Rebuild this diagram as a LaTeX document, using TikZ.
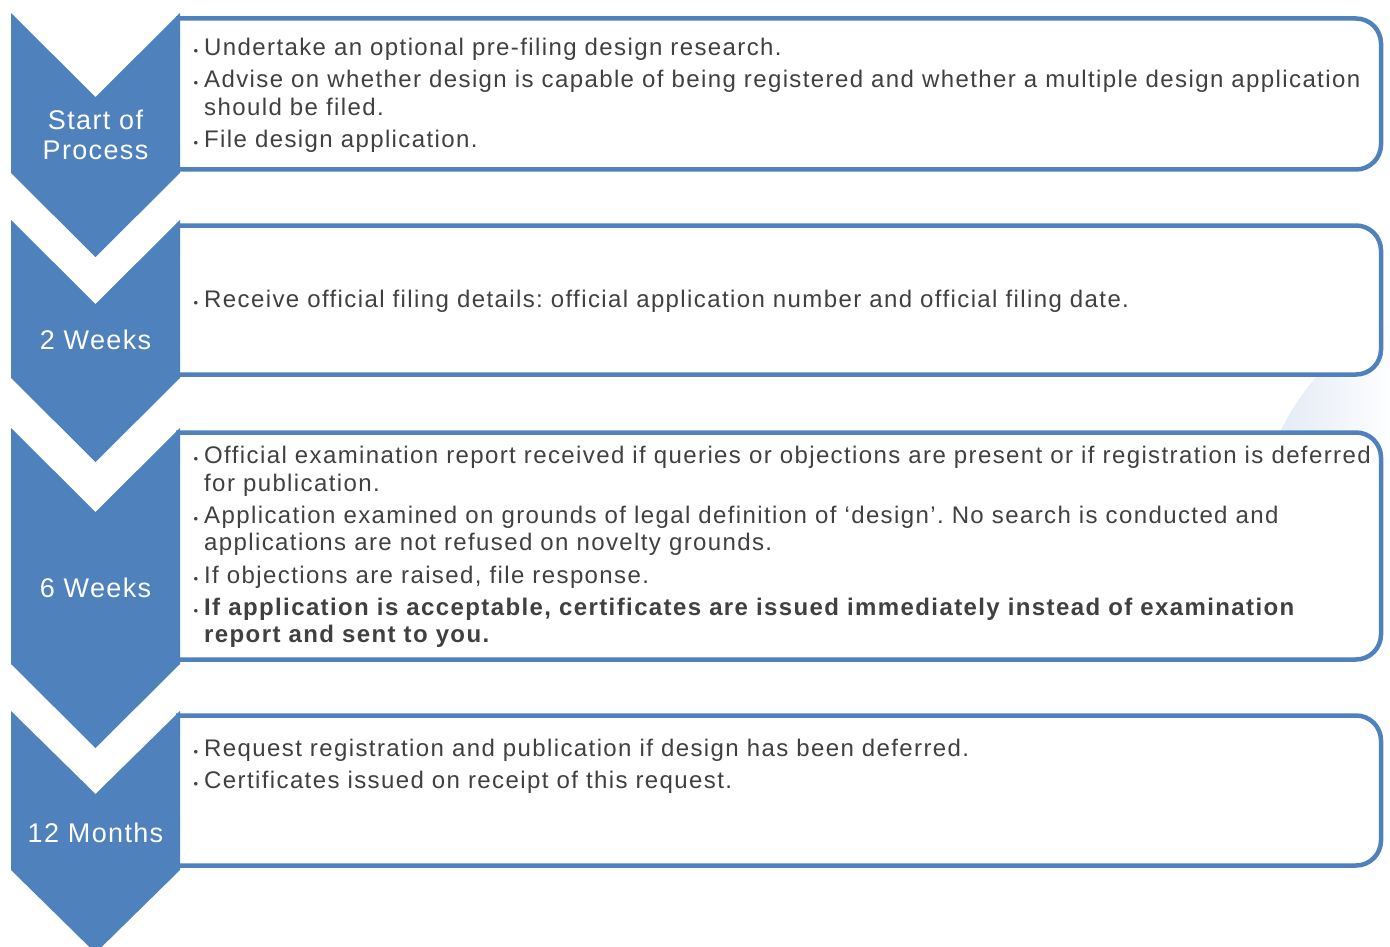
\documentclass[tikz,border=0pt]{standalone}
\usepackage{fontspec}
\setmainfont{Liberation Sans}
\newfontfamily\bodyfont{Liberation Sans}[LetterSpace=5.8]
\newfontfamily\stagefont{Liberation Sans}[LetterSpace=5]
\frenchspacing
\begin{document}
\definecolor{chevblue}{HTML}{4F81BD}
\definecolor{txtgray}{HTML}{404040}
\definecolor{haze}{HTML}{DFE8F4}
\begin{tikzpicture}[x=1pt,y=-1pt,
  chev/.style={fill=chevblue,draw=none},
  frame/.style={draw=chevblue,line width=4.5pt,rounded corners=25pt,fill=white},
  stage/.style={text=white,align=center,font=\stagefont\fontsize{27}{30}\selectfont,inner sep=0pt},
  item/.style={anchor=base west,text=txtgray,font=\bodyfont\fontsize{24}{24}\selectfont,inner sep=0pt},
  bul/.style={anchor=base,text=txtgray,font=\fontsize{13}{13}\selectfont,inner sep=0pt},
  strong/.style={item,font=\bodyfont\fontsize{24}{24}\selectfont\bfseries}]
\useasboundingbox (0,0) rectangle (1390,947);
\clip (0,0) rectangle (1390,947);

% faint background swoosh on the right
\shade[left color=haze,right color=white]
  (1262,480) .. controls (1285,400) and (1330,350) .. (1395,318) -- (1395,480) -- cycle;

% content frames, open on the left where the chevrons sit
\draw[frame] (176,18.5) -- (1381,18.5) -- (1381,169.5) -- (176,169.5);
\draw[frame] (176,225.5) -- (1381,225.5) -- (1381,374.5) -- (176,374.5);
\draw[frame] (176,432.5) -- (1381,432.5) -- (1381,659.5) -- (176,659.5);
\draw[frame] (176,715.5) -- (1381,715.5) -- (1381,865.5) -- (176,865.5);

% chevrons
\fill[chev] (11,13) -- (95.5,97) -- (180,13) -- (180,173) -- (95.5,257) -- (11,173) -- cycle;
\fill[chev] (11,220) -- (95.5,304) -- (180,220) -- (180,378) -- (95.5,462) -- (11,378) -- cycle;
\fill[chev] (11,428) -- (95.5,512) -- (180,428) -- (180,664) -- (95.5,748) -- (11,664) -- cycle;
\fill[chev] (11,711) -- (95.5,794) -- (180,711) -- (180,870) -- (95.5,953) -- (11,870) -- cycle;

% stage labels
\node[stage] (s1) at (95.5,135) {Start of\\Process};
\node[stage] (s2) at (95.5,340) {2 Weeks};
\node[stage] (s3) at (95.5,588) {6 Weeks};
\node[stage] (s4) at (95.5,833) {12 Months};

% stage 1
\node[bul] (b11) at (196,56) {•};
\node[item] (t11) at (204,56) {Undertake an optional pre-filing design research.};
\node[bul] (b12) at (196,88) {•};
\node[item] (t12) at (204,88) {Advise on whether design is capable of being registered and whether a multiple design application};
\node[item] (t12b) at (204,116) {should be filed.};
\node[bul] (b13) at (196,148) {•};
\node[item] (t13) at (204,148) {File design application.};

% stage 2
\node[bul] (b21) at (196,307) {•};
\node[item] (t21) at (204,307) {Receive official filing details: official application number and official filing date.};

% stage 3
\node[bul] (b31) at (196,463) {•};
\node[item] (t31) at (204,463) {Official examination report received if queries or objections are present or if registration is deferred};
\node[item] (t31b) at (204,491) {for publication.};
\node[bul] (b32) at (196,523) {•};
\node[item] (t32) at (204,523) {Application examined on grounds of legal definition of ‘design’. No search is conducted and};
\node[item] (t32b) at (204,550) {applications are not refused on novelty grounds.};
\node[bul] (b33) at (196,583) {•};
\node[item] (t33) at (204,583) {If objections are raised, file response.};
\node[bul] (b34) at (196,615) {•};
\node[strong] (t34) at (204,615) {If application is acceptable, certificates are issued immediately instead of examination};
\node[strong] (t34b) at (204,642) {report and sent to you.};

% stage 4
\node[bul] (b41) at (196,756) {•};
\node[item] (t41) at (204,756) {Request registration and publication if design has been deferred.};
\node[bul] (b42) at (196,788) {•};
\node[item] (t42) at (204,788) {Certificates issued on receipt of this request.};
\end{tikzpicture}
\end{document}
